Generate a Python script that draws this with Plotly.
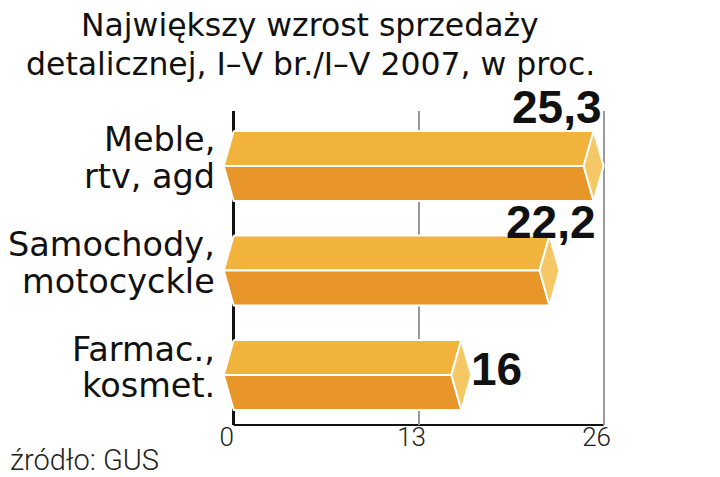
import plotly.graph_objects as go

# ---- data ----
categories = [["Meble,", "rtv, agd"], ["Samochody,", "motocyckle"], ["Farmac.,", "kosmet."]]
values = [25.3, 22.2, 16]
value_labels = ["25,3", "22,2", "16"]
x_ticks = [0, 13, 26]
x_tick_labels = ["0", "13", "26"]
title_lines = ["Największy wzrost sprzedaży", "detalicznej, I–V br./I–V 2007, w proc."]
source_text = "źródło: GUS"

# ---- style ----
TOP_COLOR = "#F2B33D"
BOTTOM_COLOR = "#E8962A"
END_COLOR = "#F5C865"
HALF = 0.335      # half bar thickness in category units
DX = 0.70         # bevel depth in value units
ML, MR, MT, MB = 215, 123, 103, 60
W, H = 720, 477
PW = W - ML - MR
TEXT_FONT = "DejaVu Sans, Verdana, sans-serif"
LIGHT_FONT = "Roboto, Liberation Sans, Arial"

fig = go.Figure()
for i, v in enumerate(values):
    yt, yc, yb = i - HALF, i, i + HALF
    faces = [
        ([0, v, v - DX, -DX, 0], [yt, yt, yc, yc, yt], TOP_COLOR),
        ([-DX, v - DX, v, 0, -DX], [yc, yc, yb, yb, yc], BOTTOM_COLOR),
        ([v, v + DX, v, v - DX, v], [yt, yc, yb, yc, yt], END_COLOR),
    ]
    for xs, ys, col in faces:
        fig.add_trace(go.Scatter(
            x=xs, y=ys, mode="lines", fill="toself", fillcolor=col,
            line=dict(color="white", width=2), hoverinfo="skip",
            showlegend=False, cliponaxis=False))

# value labels
vfont = dict(family="Liberation Sans, Arial", size=46, color="#111")
fig.add_annotation(x=x_ticks[-1], y=0 - HALF, text="<b>%s</b>" % value_labels[0], showarrow=False,
                   xanchor="right", yanchor="bottom", xshift=0, yshift=-4, font=vfont)
fig.add_annotation(x=x_ticks[-1], y=1 - HALF, text="<b>%s</b>" % value_labels[1], showarrow=False,
                   xanchor="right", yanchor="bottom", xshift=-6, yshift=-15, font=vfont)
fig.add_annotation(x=values[2], y=2, text="<b>%s</b>" % value_labels[2], showarrow=False,
                   xanchor="left", yanchor="middle", xshift=8, yshift=6, font=vfont)

# category labels (two lines each, tight leading)
for i, lines in enumerate(categories):
    for k, line in enumerate(lines):
        fig.add_annotation(xref="paper", x=0, y=i, text=line, showarrow=False,
                           xanchor="right", yanchor="middle", xshift=-6,
                           yshift=26 if k == 0 else -10.5,
                           font=dict(family=TEXT_FONT, size=33.5, color="#111"))

# title (two lines)
for k, line in enumerate(title_lines):
    fig.add_annotation(xref="paper", yref="paper", x=(302 - ML) / PW, y=1, text=line,
                       showarrow=False, xanchor="center", yanchor="middle",
                       yshift=86 if k == 0 else 47,
                       font=dict(family=TEXT_FONT, size=31.5, color="#111"))

# source
fig.add_annotation(xref="paper", yref="paper", x=-ML / PW, y=0, text=source_text,
                   showarrow=False, xanchor="left", yanchor="middle", xshift=0, yshift=-35,
                   font=dict(family=LIGHT_FONT, size=29, color="#222", weight=300))

# bottom axis line from 0 to the last tick
fig.add_shape(type="line", xref="x", yref="paper", x0=x_ticks[0], x1=x_ticks[-1], y0=0, y1=0,
              line=dict(color="#111", width=2), layer="below")

fig.update_layout(
    width=W, height=H,
    margin=dict(l=ML, r=MR, t=MT, b=MB),
    paper_bgcolor="white", plot_bgcolor="white",
    xaxis=dict(range=[-DX - 0.05, x_ticks[-1] + 0.1], tickvals=x_ticks, ticktext=x_tick_labels,
               showgrid=True, gridcolor="#9a9a9a", gridwidth=1.5,
               showline=False, zeroline=True, zerolinecolor="#111", zerolinewidth=2.5,
               ticks="", ticklabelstandoff=-6, ticklabelshift=-7,
               tickfont=dict(family=LIGHT_FONT, size=26, color="#222", weight=300)),
    yaxis=dict(range=[2.478, -0.526], showticklabels=False,
               showgrid=False, showline=False, zeroline=False, ticks=""),
)

fig.write_html("out.html")
